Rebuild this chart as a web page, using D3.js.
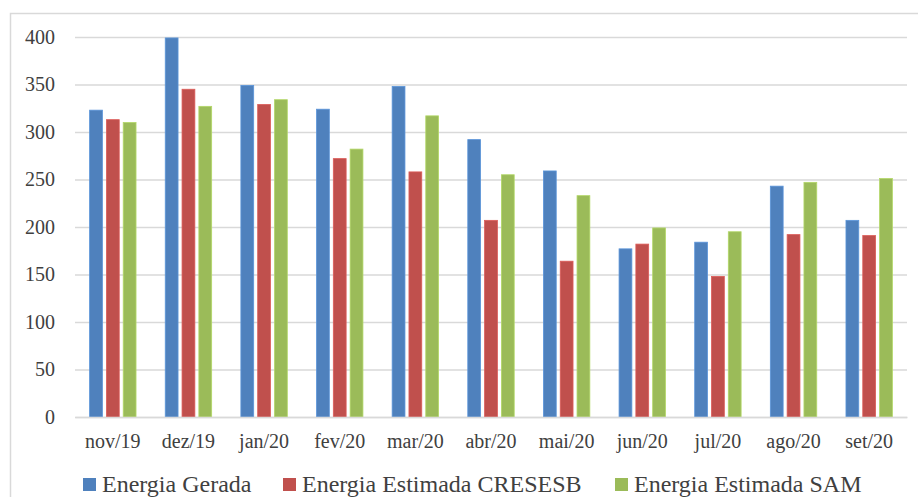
<!DOCTYPE html>
<html><head><meta charset="utf-8">
<script src="https://cdn.jsdelivr.net/npm/d3@7"></script>
<style>html,body{margin:0;padding:0;background:#fff;overflow:hidden}</style>
</head><body>
<svg id="c" width="918" height="497"></svg>
<script>
const categories = ["nov/19","dez/19","jan/20","fev/20","mar/20","abr/20","mai/20","jun/20","jul/20","ago/20","set/20"];
const seriesNames = ["Energia Gerada","Energia Estimada CRESESB","Energia Estimada SAM"];
const energiaGerada = [323,399,349,324,348,292,259,177,184,243,207];
const energiaCresesb = [313,345,329,272,258,207,164,182,148,192,191];
const energiaSam = [310,327,334,282,317,255,233,199,195,247,251];
const yTicks = [0,50,100,150,200,250,300,350,400];
const colors = ["#4f81bd","#c0504d","#9bbb59"];
const seriesValues = [energiaGerada, energiaCresesb, energiaSam];

const svg = d3.select("#c");
const font = "'Liberation Serif','Times New Roman',serif";

svg.append("rect").attr("x",10.5).attr("y",13.5).attr("width",930).attr("height",520)
  .attr("fill","#fff").attr("stroke","#d9d9d9").attr("stroke-width",1.5);

const x0 = d3.scaleBand().domain(categories).range([75,907]).paddingInner(1/3).paddingOuter(1/6);
const x1 = d3.scaleBand().domain(d3.range(3)).range([0,x0.bandwidth()]);
const y = d3.scaleLinear().domain([0,400]).range([417,37]);

const yAxis = d3.axisLeft(y).tickValues(yTicks).tickSize(-(907-75)).tickPadding(20);
const gy = svg.append("g").attr("transform","translate(75,0)").call(yAxis);
gy.select(".domain").remove();
gy.selectAll(".tick line").attr("stroke","#d9d9d9").attr("stroke-width",1.5);
gy.selectAll(".tick text").attr("font-family",font).attr("font-size",20).attr("fill","#404040").attr("x",-20);

const g = svg.append("g");
categories.forEach((c,i)=>{
  seriesValues.forEach((vals,s)=>{
    g.append("rect")
      .attr("x",x0(c)+x1(s)+2)
      .attr("width",x1.bandwidth()-4)
      .attr("y",y(vals[i]))
      .attr("height",y(0)-y(vals[i]))
      .attr("fill",colors[s])
      .attr("stroke",d3.color(colors[s]).brighter(0.4))
      .attr("stroke-width",0.8);
  });
});

const xAxis = d3.axisBottom(x0).tickSize(0).tickPadding(17);
const gx = svg.append("g").attr("transform","translate(0,417)").call(xAxis);
gx.select(".domain").attr("stroke","#d9d9d9").attr("stroke-width",1.5);
gx.selectAll(".tick text").attr("font-family",font).attr("font-size",20).attr("fill","#404040");

const legendX = [83,283,615];
const lg = svg.append("g");
seriesNames.forEach((n,s)=>{
  lg.append("rect").attr("x",legendX[s]).attr("y",478).attr("width",13).attr("height",13).attr("fill",colors[s]);
  lg.append("text").attr("x",legendX[s]+19).attr("y",491.5).text(n)
    .attr("font-family",font).attr("font-size",24).attr("fill","#404040");
});
</script>
</body></html>
